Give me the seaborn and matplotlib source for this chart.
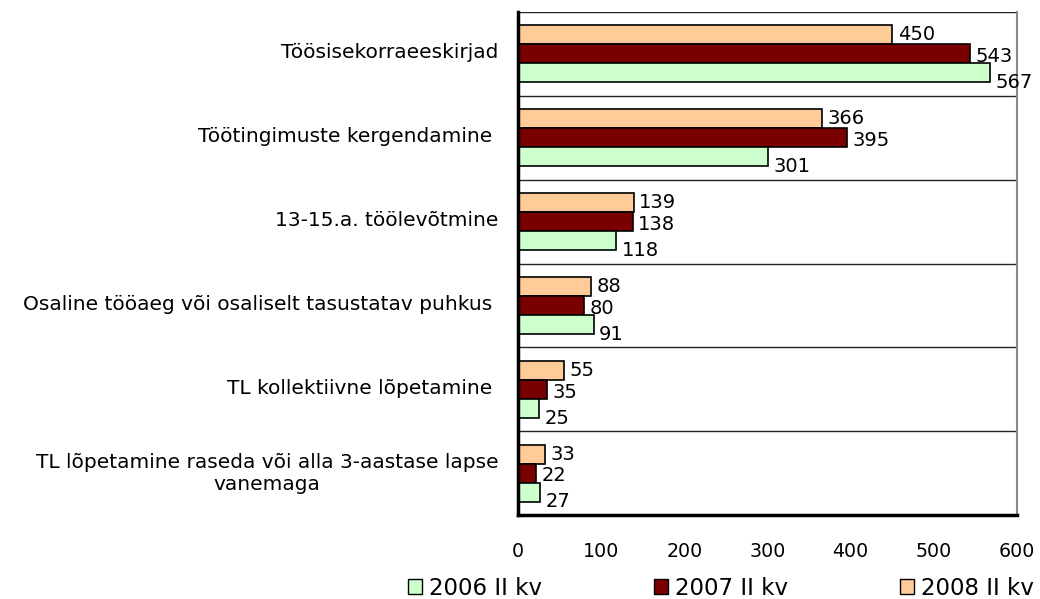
import numpy as np
import pandas as pd
import seaborn as sns
from matplotlib import pyplot as plt
from matplotlib.patches import Patch
import matplotlib.transforms as mtransforms

categories = ["Töösisekorraeeskirjad",
              "Töötingimuste kergendamine ",
              "13-15.a. töölevõtmine",
              "Osaline tööaeg või osaliselt tasustatav puhkus ",
              "TL kollektiivne lõpetamine ",
              "TL lõpetamine raseda või alla 3-aastase lapse\nvanemaga"]
series = ["2008 II kv", "2007 II kv", "2006 II kv"]   # top to bottom inside a group
v2006 = [567, 301, 118, 91, 25, 27]
v2007 = [543, 395, 138, 80, 35, 22]
v2008 = [450, 366, 139, 88, 55, 33]
colors = {"2006 II kv": "#CCFFCC", "2007 II kv": "#7A0000", "2008 II kv": "#FFCC99"}

df = pd.DataFrame({
    "cat": categories * 3,
    "year": ["2008 II kv"] * 6 + ["2007 II kv"] * 6 + ["2006 II kv"] * 6,
    "val": v2008 + v2007 + v2006,
})

sns.set_style("white")
plt.rcParams["font.family"] = ["DejaVu Sans"]
plt.rcParams["text.color"] = "black"

fig = plt.figure(figsize=(10.4, 5.99), dpi=100)
ax = fig.add_axes([0.498, 0.140, 0.48, 0.840])

sns.barplot(data=df, y="cat", x="val", hue="year", hue_order=series, order=categories,
            palette=colors, saturation=1, orient="h", width=0.68,
            edgecolor="black", linewidth=1.2, legend=False, ax=ax)

# value labels
voff = {"2008 II kv": 0, "2007 II kv": -2, "2006 II kv": -7}
for cont, name in zip(ax.containers, series):
    for p in cont:
        w = p.get_width()
        ax.annotate(f"{w:.0f}", (w, p.get_y() + p.get_height() / 2),
                    xytext=(4, voff[name]), textcoords="offset points",
                    ha="left", va="center", fontsize=14, color="black")

ax.set_xlim(0, 600)
ax.set_ylim(5.5, -0.5)
ax.set_xticks(np.arange(0, 601, 100))
ax.set_xlabel("")
ax.set_ylabel("")

# category boundaries as major ticks + gridlines, labels on minor ticks
ax.set_yticks(np.arange(-0.5, 6, 1))
ax.set_yticklabels([])
ax.set_yticks(np.arange(6), minor=True)
ax.set_yticklabels(categories, minor=True, ha="right", multialignment="center", fontsize=14.5)
ax.tick_params(axis="y", which="minor", length=0, pad=14, labelcolor="black")
ax.tick_params(axis="y", which="major", length=6, width=2, direction="out", color="black")
ax.tick_params(axis="x", length=5, width=2, direction="out", color="black",
               labelsize=13.7, pad=14, labelcolor="black")
up = mtransforms.ScaledTranslation(0, 3 / 100, fig.dpi_scale_trans)
for lab in ax.get_yticklabels(minor=True):
    lab.set_transform(lab.get_transform() + up)
ax.yaxis.grid(True, which="major", color="#222222", linewidth=1)
ax.xaxis.grid(False)
ax.set_axisbelow(True)

for s in ["left", "bottom"]:
    ax.spines[s].set_linewidth(2.5)
    ax.spines[s].set_color("black")
ax.spines["top"].set_visible(False)
ax.spines["right"].set_color("#888888")
ax.spines["right"].set_linewidth(1.5)

handles = [Patch(facecolor=colors[n], edgecolor="black", linewidth=1) for n in series[::-1]]
fig.legend(handles, series[::-1], loc="center", bbox_to_anchor=(0.693, 0.018), ncol=3,
           frameon=False, fontsize=16.5, handlelength=0.6, handleheight=0.6,
           handletextpad=0.3, columnspacing=4.9, borderpad=0)

fig.savefig("out.png", dpi=100)
